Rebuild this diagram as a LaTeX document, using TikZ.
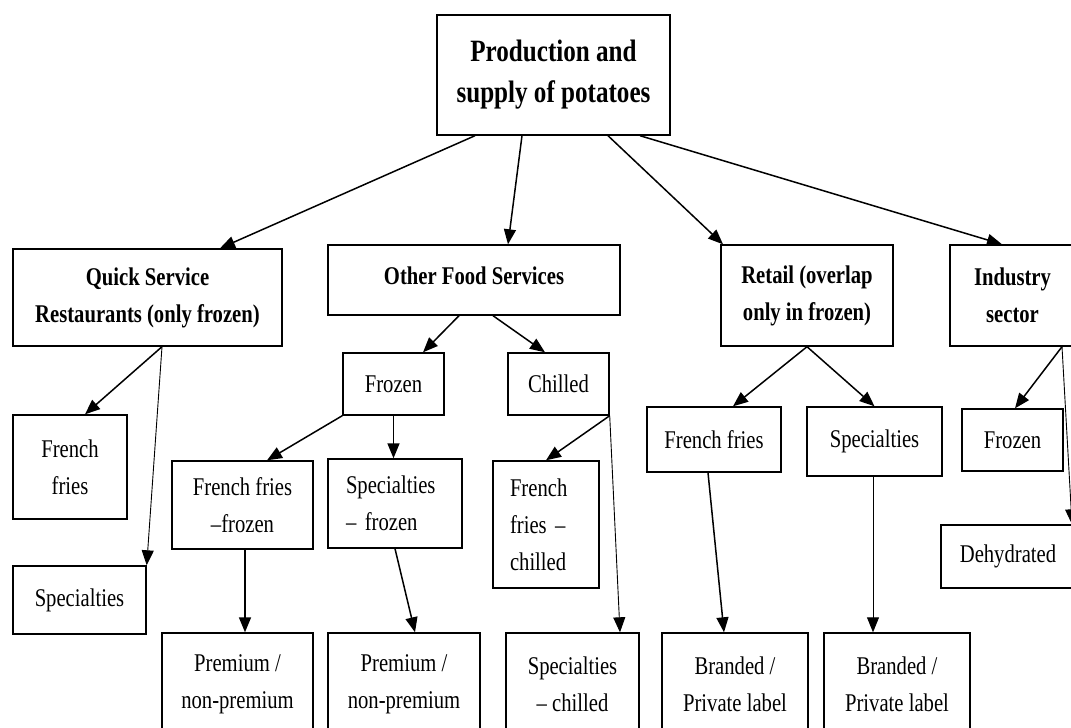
\documentclass[tikz,border=0pt]{standalone}
\usepackage{fontspec}
\setmainfont{Liberation Serif}[FakeStretch=0.81]
\usetikzlibrary{arrows.meta}
\begin{document}
\begin{tikzpicture}[x=1pt,y=-1pt,
  box/.style={draw, line width=1.4pt, inner sep=0pt, align=center, font=\fontsize{25.5}{37}\selectfont},
  hdr/.style={box, font=\bfseries\fontsize{25.5}{37}\selectfont},
  arr/.style={line width=1.5pt, -{Triangle[length=15pt,width=12pt]}},
  thinarr/.style={arr, line width=0.9pt}]
\useasboundingbox (0,0) rectangle (1071,728);
% top level
\node[hdr, font=\bfseries\fontsize{31}{41}\selectfont, minimum width=233pt, minimum height=120pt] (top) at (553.5,75) {Production and\\supply of potatoes};
% second level
\node[hdr, minimum width=269pt, minimum height=97pt] (qsr) at (147.5,297.5) {Quick Service\\Restaurants (only frozen)};
\node[hdr, minimum width=292pt, minimum height=70pt, text height=18pt, text depth=10pt] (ofs) at (474,280) {Other Food Services};
\node[hdr, minimum width=172pt, minimum height=101pt] (ret) at (807,295.5) {Retail (overlap\\only in frozen)};
\node[hdr, minimum width=125pt, minimum height=101pt] (ind) at (1012.5,295.5) {Industry\\sector};
% third level
\node[box, minimum width=114pt, minimum height=104pt] (qff) at (70,467) {French\\fries};
\node[box, minimum width=133pt, minimum height=68pt] (qsp) at (79.5,600) {Specialties};
\node[box, minimum width=101pt, minimum height=62pt] (ofz) at (393.5,384) {Frozen};
\node[box, minimum width=101pt, minimum height=62pt] (och) at (558.5,384) {Chilled};
\node[box, minimum width=141pt, minimum height=88pt] (fff) at (242.5,505) {French fries\\–frozen};
\node[box, minimum width=134pt, minimum height=89pt, align=left, inner xsep=18pt, text width=98pt] (sfz) at (395,503.5) {Specialties\\– frozen};
\node[box, minimum width=106pt, minimum height=127pt, align=left, inner xsep=17pt, text width=72pt] (ffc) at (546,524.5) {French\\fries –\\chilled};
\node[box, minimum width=134pt, minimum height=65pt] (rff) at (714,439.5) {French fries};
\node[box, minimum width=135pt, minimum height=69pt] (rsp) at (874.5,441.5) {Specialties};
\node[box, minimum width=101pt, minimum height=62pt] (ifz) at (1012.5,440) {Frozen};
\node[box, minimum width=134pt, minimum height=63pt] (dhy) at (1008,556.5) {Dehydrated};
% bottom level
\node[box, minimum width=151pt, minimum height=102pt] (p1) at (237.5,684) {Premium /\\non-premium};
\node[box, minimum width=152pt, minimum height=102pt] (p2) at (404,684) {Premium /\\non-premium};
\node[box, minimum width=133pt, minimum height=102pt] (sch) at (572.5,684) {Specialties\\– chilled};
\node[box, minimum width=146pt, minimum height=102pt] (b1) at (735,684) {Branded /\\Private label};
\node[box, minimum width=146pt, minimum height=102pt] (b2) at (897,684) {Branded /\\Private label};
% connectors
\draw[arr] ([xshift=-78.5pt]top.south) -- ([xshift=72.5pt]qsr.north);
\draw[arr] ([xshift=-31.5pt]top.south) -- ([xshift=34pt]ofs.north);
\draw[arr] ([xshift=54.5pt]top.south) -- ([xshift=-84pt]ret.north);
\draw[arr] ([xshift=86.5pt]top.south) -- ([xshift=-10.5pt]ind.north);
\draw[arr] ([xshift=14.5pt]qsr.south) -- ([xshift=15pt]qff.north);
\draw[thinarr] ([xshift=14.5pt]qsr.south) -- (qsp.north east);
\draw[arr] ([xshift=-15pt]ofs.south) -- ([xshift=29.5pt]ofz.north);
\draw[arr] ([xshift=19pt]ofs.south) -- ([xshift=-13.5pt]och.north);
\draw[arr] (ofz.south west) -- ([xshift=24.5pt]fff.north);
\draw[arr] (ofz.south) -- (ofz.south |- sfz.north);
\draw[arr] (och.south east) -- (ffc.north);
\draw[thinarr] (och.south east) -- ([xshift=47.5pt]sch.north);
\draw[arr] ([xshift=2.5pt]fff.south) -- ([xshift=7.5pt]p1.north);
\draw[arr] (sfz.south) -- ([xshift=11pt]p2.north);
\draw[arr] (ret.south) -- ([xshift=19pt]rff.north);
\draw[arr] (ret.south) -- (rsp.north);
\draw[arr] ([xshift=-6pt]rff.south) -- ([xshift=-11pt]b1.north);
\draw[thinarr] ([xshift=-1.5pt]rsp.south) -- ([xshift=-1.5pt]rsp.south |- b2.north);
\draw[arr] ([xshift=49.5pt]ind.south) -- ([xshift=2.5pt]ifz.north);
\draw[thinarr] ([xshift=49.5pt]ind.south) -- ([xshift=64pt]dhy.north);
\end{tikzpicture}
\end{document}
